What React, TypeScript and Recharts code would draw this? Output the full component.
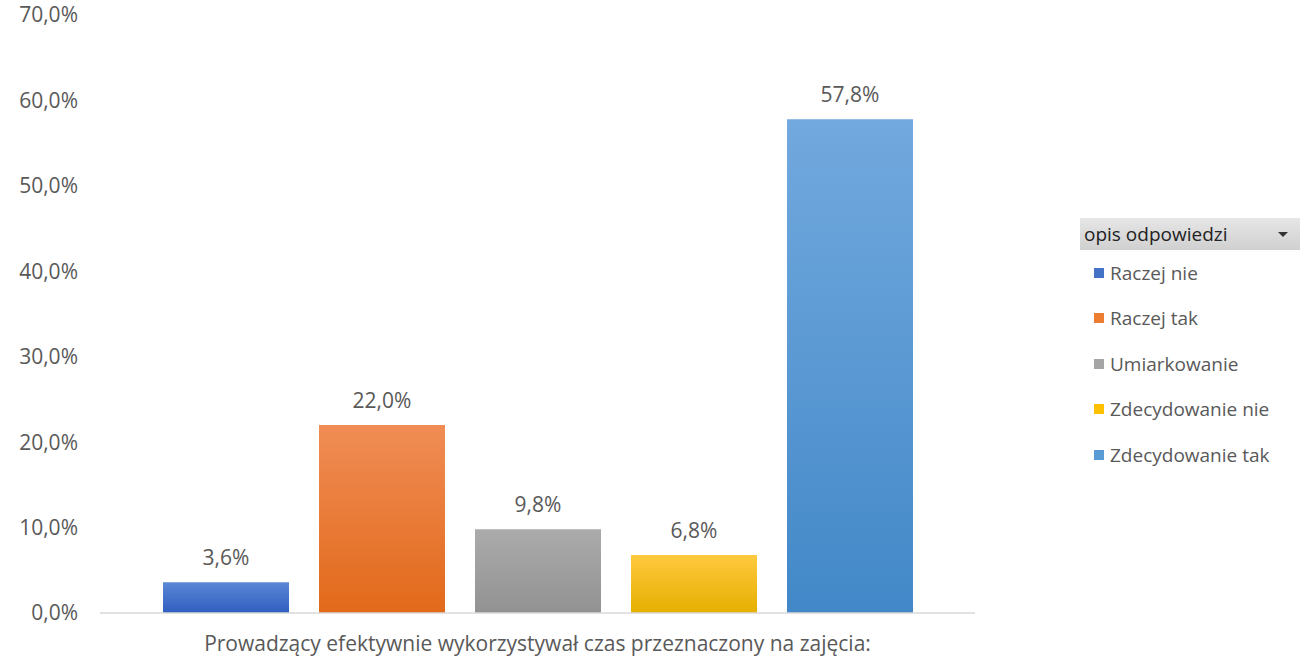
import React from "react";
import { BarChart, Bar, XAxis, YAxis, LabelList } from "recharts";

const categories = ["Prowadzący efektywnie wykorzystywał czas przeznaczony na zajęcia:"];
const seriesNames = ["Raczej nie", "Raczej tak", "Umiarkowanie", "Zdecydowanie nie", "Zdecydowanie tak"];
const seriesValues = [0.036, 0.22, 0.098, 0.068, 0.578];
const yTicks = [0, 0.1, 0.2, 0.3, 0.4, 0.5, 0.6, 0.7];
const legendTitle = "opis odpowiedzi";

const colors = ["#4472C4", "#ED7D31", "#A5A5A5", "#FFC000", "#5B9BD5"];
const gradTop = ["#5B87D6", "#F08D55", "#ABABAB", "#FFC93F", "#72A9DE"];
const gradBottom = ["#2F5EBF", "#E2691A", "#929292", "#E5AF00", "#4288C8"];

const keys = seriesNames.map((_, i) => "s" + i);
const data = categories.map((c) => {
  const row: any = { cat: c };
  keys.forEach((k, i) => (row[k] = seriesValues[i]));
  return row;
});

const FONT = "'Open Sans', sans-serif";
const FS = 21;
const fmt = (v: number) => (v * 100).toFixed(1).replace(".", ",") + "%";

const LegendBox = () => (
  <div style={{ position: "absolute", left: 1080, top: 218, fontFamily: FONT, width: 220 }}>
    <div
      style={{
        height: 32,
        background: "linear-gradient(#e6e6e6, #d0d0d0)",
        display: "flex",
        alignItems: "center",
        justifyContent: "space-between",
        padding: "0 12px 0 4px",
        fontSize: 19,
        color: "#222",
        boxSizing: "border-box",
      }}
    >
      <span>{legendTitle}</span>
      <span style={{ width: 0, height: 0, borderLeft: "5px solid transparent", borderRight: "5px solid transparent", borderTop: "5px solid #333" }} />
    </div>
    {seriesNames.map((n, i) => (
      <div
        key={n}
        style={{ display: "flex", alignItems: "center", height: 45.5, paddingLeft: 14, fontSize: 19, color: "#595959" }}
      >
        <span style={{ width: 10, height: 10, background: colors[i], marginRight: 6, display: "inline-block" }} />
        <span>{n}</span>
      </div>
    ))}
  </div>
);

export default function App() {
  return (
    <div style={{ position: "absolute", left: 0, top: 0, width: 1316, height: 657, background: "#fff" }}>
      <BarChart
        width={1316}
        height={657}
        data={data}
        margin={{ top: 15, right: 341, bottom: 0, left: 0 }}
        barGap={30}
        barSize={126}
      >
        <defs>
          {keys.map((k, i) => (
            <linearGradient key={k} id={"g" + i} x1="0" y1="0" x2="0" y2="1">
              <stop offset="0%" stopColor={gradTop[i]} />
              <stop offset="100%" stopColor={gradBottom[i]} />
            </linearGradient>
          ))}
        </defs>
        <XAxis
          dataKey="cat"
          height={44}
          axisLine={{ stroke: "#D9D9D9", strokeWidth: 1.5 }}
          tickLine={false}
          tickMargin={17}
          tick={{ fill: "#595959", fontSize: FS, fontFamily: FONT }}
        />
        <YAxis
          width={100}
          domain={[0, 0.7]}
          ticks={yTicks}
          tickFormatter={fmt}
          axisLine={false}
          tickLine={false}
          tickMargin={16}
          tick={{ fill: "#595959", fontSize: FS, fontFamily: FONT }}
        />
        {keys.map((k, i) => (
          <Bar key={k} dataKey={k} name={seriesNames[i]} fill={"url(#g" + i + ")"} isAnimationActive={false}>
            <LabelList
              dataKey={k}
              position="top"
              offset={17}
              formatter={(v: any) => fmt(Number(v))}
              style={{ fill: "#595959", fontSize: FS, fontFamily: FONT }}
            />
          </Bar>
        ))}
      </BarChart>
      <LegendBox />
    </div>
  );
}
